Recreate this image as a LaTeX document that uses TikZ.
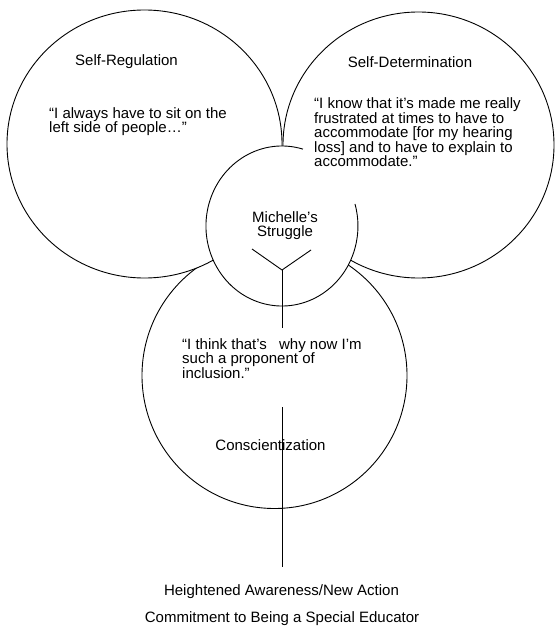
\documentclass[tikz,border=0pt]{standalone}
\usepackage{fontspec}
\setmainfont{Liberation Sans}
\begin{document}
\begin{tikzpicture}[x=1pt,y=-1pt,
  ring/.style={draw=black, fill=white, line width=0.9pt},
  lbl/.style={font=\fontsize{15pt}{14.5pt}\selectfont, inner sep=0pt},
  quote/.style={lbl, align=left, anchor=north west},
  link/.style={draw=black, line width=0.9pt}]
\useasboundingbox[fill=white] (0,0) rectangle (554,631);
% circle centres
\coordinate (cB) at (274.5,375.5);
\coordinate (cL) at (144.5,144);
\coordinate (cR) at (418.5,145);
\coordinate (cM) at (282,226);
% circles (painted back to front)
\path[ring] (cB) ellipse[x radius=132.5pt, y radius=133pt];
\path[ring] (cL) ellipse[x radius=137.5pt, y radius=134pt];
\path[ring] (cR) ellipse[x radius=135.5pt, y radius=133pt];
\fill[white] (cM) ellipse[x radius=76pt, y radius=80pt];
\coordinate (mstart) at (302.9,149.1);
\draw[link] (mstart) arc[start angle=74, end angle=376, x radius=76pt, y radius=80pt];
% labels
\node[lbl, anchor=base] (selfreg) at (126.5,66) {Self-Regulation};
\node[quote] (q1) at (49,107) {“I always have to sit on the\\left side of people…”};
\node[lbl, anchor=base] (selfdet) at (410,68) {Self-Determination};
\node[quote] (q2) at (314,97.5) {“I know that it’s made me really\\frustrated at times to have to\\accommodate [for my hearing\\loss] and to have to explain to\\accommodate.”};
\node[lbl, align=center, anchor=north] (mich) at (285,211) {Michelle’s\\Struggle};
\node[quote] (q3) at (182,338) {“I think that’s\hspace{8pt} why now I’m\\such a proponent of\\inclusion.”};
\node[lbl, anchor=base] (consc) at (270.5,450) {Conscientization};
\node[lbl, anchor=base] (aware) at (281.5,595) {Heightened Awareness/New Action};
\node[lbl, anchor=base] (commit) at (282,622) {Commitment to Being a Special Educator};
% Y connector
\coordinate (yl) at (252,249);
\coordinate (yr) at (311,250);
\coordinate (yj) at (282,270);
\coordinate (ys) at (282,328);
\draw[link] (yl) -- (yj);
\draw[link] (yr) -- (yj);
\draw[link] (yj) -- (ys);
% vertical line
\coordinate (vt) at (282,407);
\coordinate (vb) at (282,567);
\draw[link] (vt) -- (vb);
\end{tikzpicture}
\end{document}
